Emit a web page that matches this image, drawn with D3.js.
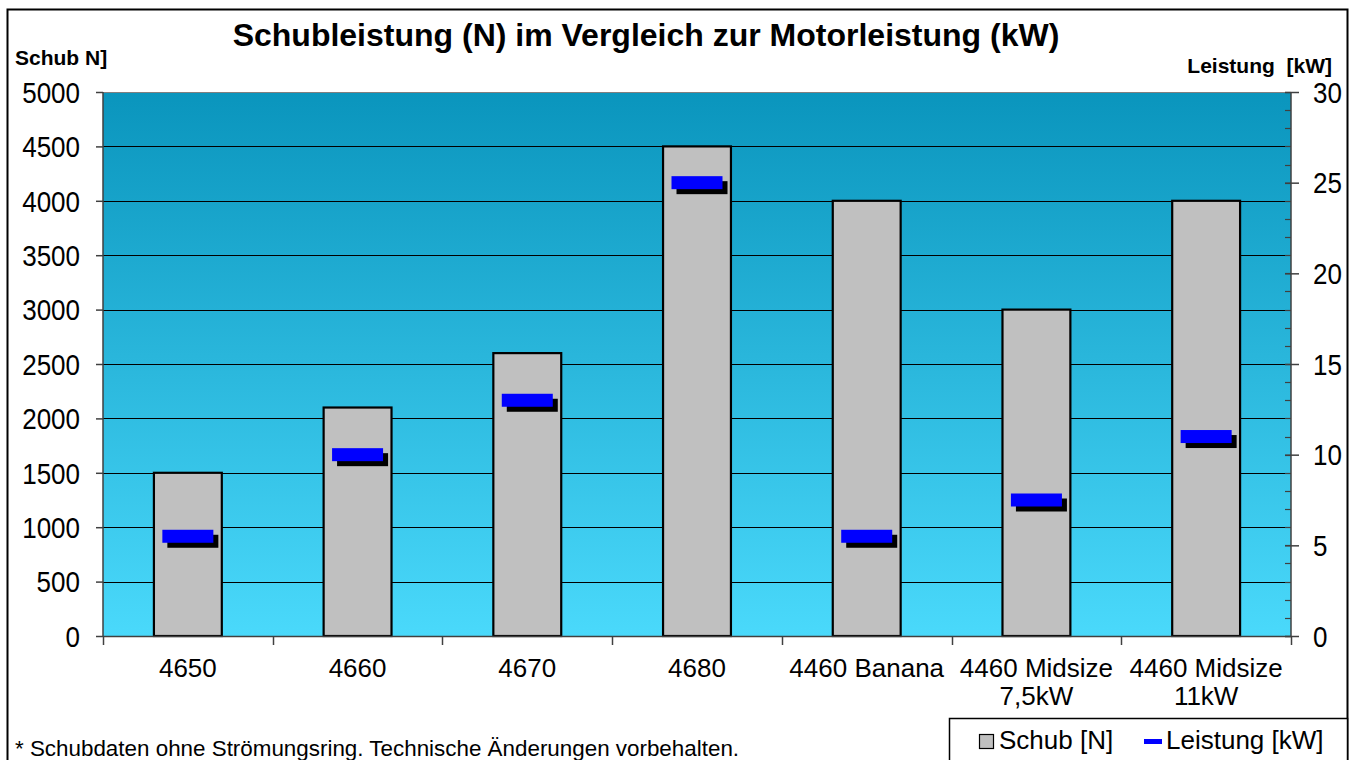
<!DOCTYPE html>
<html><head><meta charset="utf-8">
<script src="https://cdn.jsdelivr.net/npm/d3@7"></script>
<style>body{margin:0;background:#fff}svg{display:block;font-family:"Liberation Sans",Arial,sans-serif}</style>
</head><body><svg id="c" width="1355" height="760"></svg>
<script>
const categories = [["4650"],["4660"],["4670"],["4680"],["4460 Banana"],["4460 Midsize","7,5kW"],["4460 Midsize","11kW"]];
const schubValues = [1500, 2100, 2600, 4500, 4000, 3000, 4000];
const leistungValues = [5.5, 10, 13, 25, 5.5, 7.5, 11];
const leftTicks = [0,500,1000,1500,2000,2500,3000,3500,4000,4500,5000];
const rightTicks = [0,5,10,15,20,25,30];
const rightMinorTicks = d3.range(0,31,1);

const svg = d3.select("#c");
const L=103, R=1291, T=92, B=636;
const FS = 26, SY = 1.1;

// outer border
svg.append("rect").attr("x",7.5).attr("y",9.5).attr("width",1340).attr("height",760).attr("fill","#fff").attr("stroke","#000").attr("stroke-width",2);

const defs = svg.append("defs");
const g = defs.append("linearGradient").attr("id","bg").attr("x1",0).attr("y1",0).attr("x2",0).attr("y2",1);
g.append("stop").attr("offset","0%").attr("stop-color","#0a95bd");
g.append("stop").attr("offset","100%").attr("stop-color","#4ad9fb");

const x = d3.scaleBand().domain(categories.map((d,i)=>i)).range([L,R]).paddingInner(0).paddingOuter(0);
const y = d3.scaleLinear().domain([0,5000]).range([B,T]);
const y2 = d3.scaleLinear().domain([0,30]).range([B,T]);

svg.append("rect").attr("x",L).attr("y",T).attr("width",R-L).attr("height",B-T).attr("fill","url(#bg)");
svg.append("line").attr("x1",L).attr("x2",R).attr("y1",T+0.5).attr("y2",T+0.5).attr("stroke","#808080").attr("stroke-width",1);

// gridlines
svg.append("g").selectAll("line").data(leftTicks.filter(d=>d>0&&d<5000)).join("line")
  .attr("x1",L).attr("x2",R).attr("y1",d=>Math.round(y(d))+0.5).attr("y2",d=>Math.round(y(d))+0.5)
  .attr("stroke","#000").attr("stroke-width",1.2);

// bars
const bw = x.bandwidth()*0.4;
svg.append("g").selectAll("rect").data(schubValues).join("rect")
  .attr("x",(d,i)=>x(i)+x.bandwidth()/2-bw/2).attr("width",bw)
  .attr("y",d=>y(d)).attr("height",d=>B-y(d))
  .attr("fill","#c0c0c0").attr("stroke","#000").attr("stroke-width",2.2);

// leistung markers
const mw=51, mh=13;
const mk = svg.append("g");
mk.selectAll("rect.s").data(leistungValues).join("rect").attr("class","s")
  .attr("x",(d,i)=>x(i)+x.bandwidth()/2-mw/2+5).attr("y",d=>y2(d)-mh/2+5)
  .attr("width",mw).attr("height",mh).attr("fill","#000");
mk.selectAll("rect.b").data(leistungValues).join("rect").attr("class","b")
  .attr("x",(d,i)=>x(i)+x.bandwidth()/2-mw/2).attr("y",d=>y2(d)-mh/2)
  .attr("width",mw).attr("height",mh).attr("fill","#0000ff");

// left axis
const la = svg.append("g").attr("transform",`translate(${L},0)`)
  .call(d3.axisLeft(y).tickValues(leftTicks).tickSize(7).tickPadding(16).tickFormat(d3.format("d")));
la.select(".domain").attr("stroke","#404040").attr("stroke-width",1.5).attr("d",`M0,${T}V${B}`);
la.selectAll(".tick line").attr("stroke","#404040").attr("stroke-width",1.5);
la.selectAll(".tick text").attr("font-size",FS).attr("fill","#000").attr("font-family","Liberation Sans, Arial")
  .attr("dy","0.36em").attr("transform",`scale(1,${SY})`);

// right axis
const ra = svg.append("g").attr("transform",`translate(${R},0)`);
ra.selectAll("line.minor").data(rightMinorTicks).join("line").attr("class","minor")
  .attr("x1",-6).attr("x2",0).attr("y1",d=>Math.round(y2(d))+0.5).attr("y2",d=>Math.round(y2(d))+0.5)
  .attr("stroke","#404040").attr("stroke-width",1.2);
const raxis = d3.axisRight(y2).tickValues(rightTicks).tickSize(8).tickPadding(14);
ra.call(raxis);
ra.select(".domain").attr("stroke","#404040").attr("stroke-width",1.5).attr("d",`M0,${T}V${B}`);
ra.selectAll(".tick line").attr("stroke","#404040").attr("stroke-width",1.5).attr("x1",-6);
ra.selectAll(".tick text").attr("font-size",FS).attr("fill","#000").attr("font-family","Liberation Sans, Arial")
  .attr("dy","0.36em").attr("transform",`scale(1,${SY})`);

// x axis
const xa = svg.append("g");
xa.append("line").attr("x1",L).attr("x2",R).attr("y1",B+0.5).attr("y2",B+0.5).attr("stroke","#404040").attr("stroke-width",1.5);
xa.selectAll("line.t").data(d3.range(categories.length+1)).join("line").attr("class","t")
  .attr("x1",i=>Math.round(L+i*x.step())+0.5).attr("x2",i=>Math.round(L+i*x.step())+0.5)
  .attr("y1",B).attr("y2",B+9).attr("stroke","#404040").attr("stroke-width",1.5);
const xl = xa.selectAll("text").data(categories).join("text")
  .attr("x",(d,i)=>x(i)+x.bandwidth()/2).attr("y",677).attr("text-anchor","middle")
  .attr("font-size",FS).attr("fill","#000");
xl.selectAll("tspan").data(d=>d).join("tspan")
  .attr("x",function(){return this.parentNode.getAttribute("x");})
  .attr("dy",(d,i)=>i===0?0:28).text(d=>d);

// titles
svg.append("text").attr("x",646).attr("y",46).attr("text-anchor","middle")
  .attr("font-size",32).attr("font-weight","bold").text("Schubleistung (N) im Vergleich zur Motorleistung (kW)");
svg.append("text").attr("x",15).attr("y",65).attr("font-size",21).attr("font-weight","bold").text("Schub N]");
svg.append("text").attr("x",1332).attr("y",73).attr("text-anchor","end").attr("font-size",21).attr("font-weight","bold")
  .attr("xml:space","preserve").style("white-space","pre").text("Leistung  [kW]");

// footnote
svg.append("text").attr("x",15).attr("y",756).attr("font-size",22.4).text("* Schubdaten ohne Strömungsring. Technische Änderungen vorbehalten.");

// legend
const lg = svg.append("g");
lg.append("rect").attr("x",949.5).attr("y",718.5).attr("width",398).attr("height",50).attr("fill","#fff").attr("stroke","#000").attr("stroke-width",1.5);
lg.append("rect").attr("x",979.5).attr("y",734.5).attr("width",14).attr("height",14).attr("fill","#c0c0c0").attr("stroke","#000").attr("stroke-width",1.2);
lg.append("text").attr("x",999).attr("y",749).attr("font-size",26).text("Schub [N]");
lg.append("rect").attr("x",1144).attr("y",739).attr("width",18).attr("height",5).attr("fill","#0000ff");
lg.append("text").attr("x",1166).attr("y",749).attr("font-size",26).text("Leistung [kW]");
</script></body></html>
